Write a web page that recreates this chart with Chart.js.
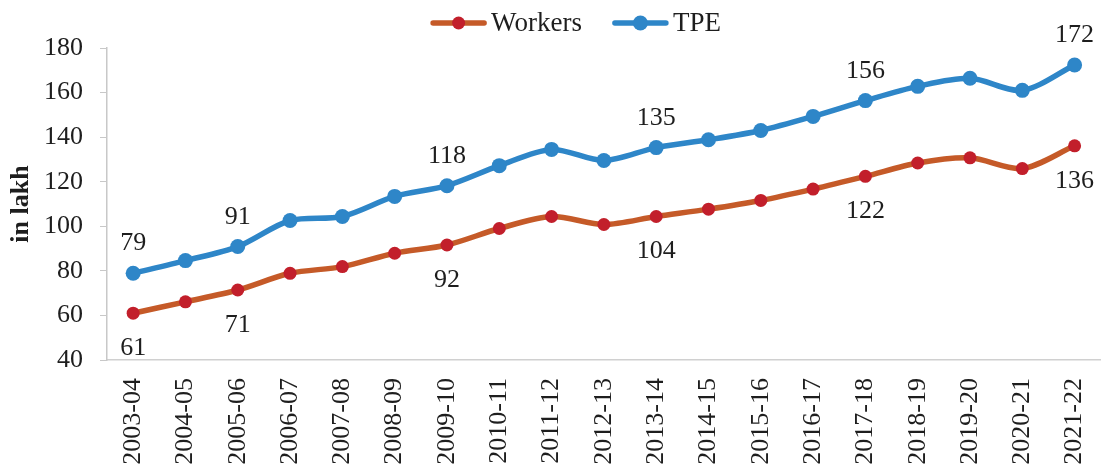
<!DOCTYPE html>
<html>
<head>
<meta charset="utf-8">
<script src="https://cdn.jsdelivr.net/npm/chart.js@4/dist/chart.umd.min.js"></script>
<style>
  body { margin: 0; overflow: hidden; background: #fff; }
  #wrap { width: 1124px; height: 466px; }
</style>
</head>
<body>
<div id="wrap"><canvas id="mycanvas"></canvas></div>
<script>
var years = ['2003-04','2004-05','2005-06','2006-07','2007-08','2008-09','2009-10','2010-11','2011-12','2012-13',
             '2013-14','2014-15','2015-16','2016-17','2017-18','2018-19','2019-20','2020-21','2021-22']
var workers = [61.0, 66.1, 71.4, 78.9, 81.9, 87.9, 91.6, 99.0, 104.4, 100.8, 104.4, 107.7, 111.6, 116.7, 122.4, 128.4, 130.7, 125.9, 136.1]
var tpe = [78.9, 84.6, 90.9, 102.6, 104.4, 113.4, 118.2, 127.2, 134.5, 129.5, 135.3, 138.8, 143.0, 149.3, 156.4, 162.8, 166.4, 161.0, 172.4]
var labelled = [0, 2, 6, 10, 14, 18]   // points that carry a value label

var FONT = '"Liberation Serif", "Times New Roman", serif'
var TEXT = '#1e1e1e'

// value labels: TPE above, Workers below
var valueLabels = {
    id: 'valueLabels',
    afterDatasetsDraw: function(chart){
        var ctx = chart.ctx
        ctx.save()
        ctx.font = '26px ' + FONT
        ctx.fillStyle = TEXT
        ctx.textAlign = 'center'
        ctx.textBaseline = 'alphabetic'
        chart.data.datasets.forEach(function(ds, i){
            var meta = chart.getDatasetMeta(i)
            labelled.forEach(function(idx){
                var p = meta.data[idx]
                var dy = ds.labelPos == 'above' ? -23 : 42
                ctx.fillText(Math.round(ds.data[idx]), p.x, p.y + dy)
            })
        })
        ctx.restore()
    }
}

// legend with line + marker, like the office chart
var lineLegend = {
    id: 'lineLegend',
    afterDraw: function(chart){
        var ctx = chart.ctx
        ctx.save()
        ctx.font = '27px ' + FONT
        var lineLen = 55, gap = 5, between = 31
        var items = chart.data.datasets
        var total = 0
        items.forEach(function(ds, i){
            total += lineLen + gap + ctx.measureText(ds.label).width
            if(i < items.length - 1) total += between
        })
        var x = 576 - total / 2
        var y = 23
        items.forEach(function(ds){
            ctx.strokeStyle = ds.borderColor
            ctx.lineWidth = 5.5
            ctx.lineCap = 'round'
            ctx.beginPath()
            ctx.moveTo(x + 2, y)
            ctx.lineTo(x + lineLen - 2, y)
            ctx.stroke()
            ctx.fillStyle = ds.pointBackgroundColor
            ctx.beginPath()
            ctx.arc(x + lineLen / 2, y, ds.pointRadius, 0, Math.PI * 2)
            ctx.fill()
            ctx.fillStyle = TEXT
            ctx.textAlign = 'left'
            ctx.textBaseline = 'middle'
            ctx.fillText(ds.label, x + lineLen + gap, y + 1)
            x += lineLen + gap + ctx.measureText(ds.label).width + between
        })
        ctx.restore()
    }
}

var context = document.getElementById('mycanvas').getContext('2d')
new Chart(context, {
    type: 'line',
    data: {
        labels: years,
        datasets: [{
            label: 'Workers',
            data: workers,
            borderColor: '#C55A28',
            borderWidth: 5.5,
            pointBackgroundColor: '#C21F2B',
            pointBorderColor: '#C21F2B',
            pointBorderWidth: 0,
            pointRadius: 6.5,
            tension: 0.3,
            labelPos: 'below'
        }, {
            label: 'TPE',
            data: tpe,
            borderColor: '#2E86C8',
            borderWidth: 5.5,
            pointBackgroundColor: '#2E86C8',
            pointBorderColor: '#2E86C8',
            pointBorderWidth: 0,
            pointRadius: 7.5,
            tension: 0.3,
            labelPos: 'above'
        }]
    },
    options: {
        responsive: true,
        maintainAspectRatio: false,
        animation: false,
        layout: { padding: { top: 48, right: 0, bottom: 0, left: 0 } },
        plugins: {
            legend: { display: false },
            tooltip: { enabled: false }
        },
        scales: {
            x: {
                offset: true,
                grid: { display: false, drawTicks: false },
                border: { display: true, color: '#D0D0D0', width: 1.5 },
                ticks: {
                    minRotation: 90, maxRotation: 90, autoSkip: false,
                    padding: 18, color: TEXT,
                    font: { family: FONT, size: 26 }
                },
                afterFit: function(scale){ scale.height = 106 }
            },
            y: {
                min: 40, max: 180,
                grid: { drawOnChartArea: false, drawTicks: true, tickLength: 7, color: '#C8C8C8' },
                border: { display: true, color: '#C8C8C8', width: 1.5 },
                ticks: {
                    stepSize: 20, padding: 17, color: TEXT,
                    font: { family: FONT, size: 26 }
                },
                title: {
                    display: true, text: 'in lakh', color: TEXT,
                    font: { family: FONT, size: 26, weight: 'bold' },
                    padding: { top: 6, bottom: 0 }
                },
                afterFit: function(scale){ scale.width = 107 }
            }
        }
    },
    plugins: [valueLabels, lineLegend]
})
</script>
</body>
</html>
